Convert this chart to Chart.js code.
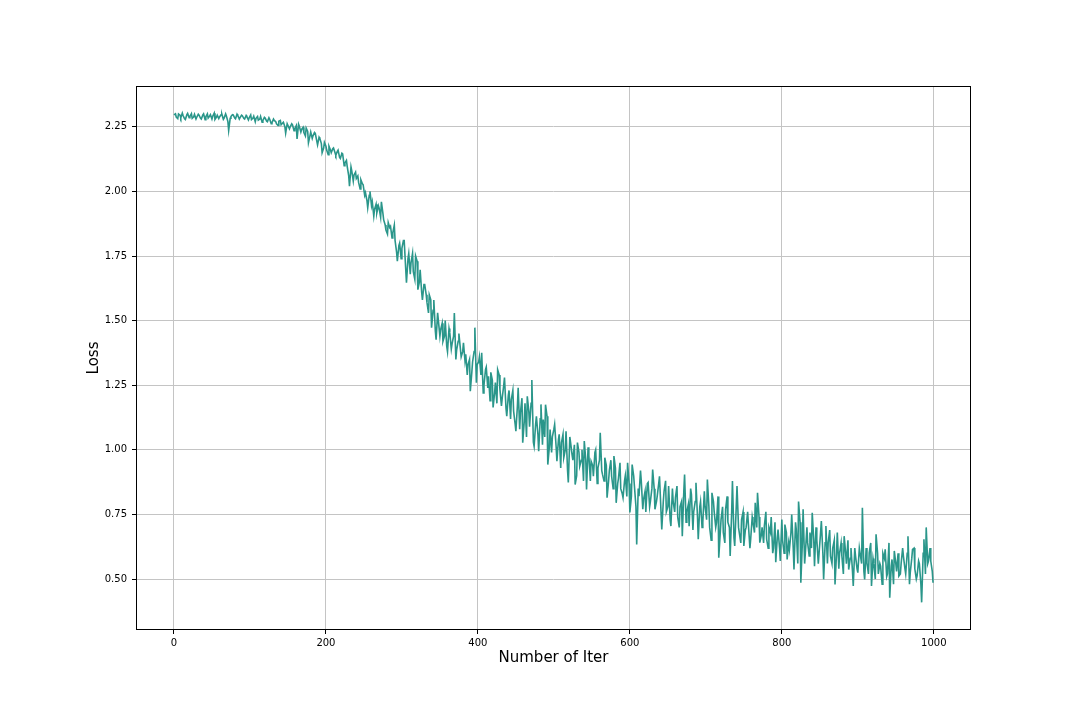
<!DOCTYPE html>
<html>
<head>
<meta charset="utf-8">
<title>Loss</title>
<script src="https://cdn.jsdelivr.net/npm/chart.js@4.4.1/dist/chart.umd.min.js"></script>
<style>
  html, body { margin: 0; padding: 0; background: #fff; }
  #wrap { width: 1080px; height: 720px; }
</style>
</head>
<body>
<div id="wrap"><canvas id="lossChart" width="1080" height="720"></canvas></div>
<script>
// loss: lossA at iterations 0,3,6,... and lossB at 2,5,8,...
const STEP = 3;
const lossA = [
  2.296, 2.288, 2.300, 2.285, 2.294, 2.278, 2.302, 2.290, 2.283, 2.298,
  2.287, 2.295, 2.280, 2.300, 2.289, 2.284, 2.297, 2.291, 2.279, 2.295,
  2.288, 2.299, 2.284, 2.292, 2.236, 2.290, 2.296, 2.281, 2.294, 2.286,
  2.293, 2.280, 2.289, 2.285, 2.278, 2.291, 2.283, 2.276, 2.290, 2.274,
  2.284, 2.270, 2.279, 2.266, 2.275, 2.262, 2.272, 2.258, 2.268, 2.226,
  2.262, 2.250, 2.258, 2.243, 2.203, 2.252, 2.240, 2.228, 2.245, 2.188,
  2.230, 2.215, 2.225, 2.180, 2.205, 2.150, 2.190, 2.160, 2.175, 2.150,
  2.168, 2.140, 2.160, 2.128, 2.145, 2.110, 2.097, 2.020, 2.080, 2.064,
  2.050, 2.035, 2.045, 2.026, 1.995, 1.937, 2.000, 1.960, 1.930, 1.917,
  1.935, 1.960, 1.890, 1.850, 1.880, 1.865, 1.840, 1.810, 1.730, 1.800,
  1.780, 1.810, 1.647, 1.760, 1.724, 1.690, 1.750, 1.620, 1.697, 1.580,
  1.640, 1.570, 1.600, 1.473, 1.580, 1.426, 1.500, 1.465, 1.420, 1.500,
  1.380, 1.453, 1.410, 1.530, 1.386, 1.450, 1.360, 1.414, 1.370, 1.330,
  1.227, 1.340, 1.473, 1.330, 1.360, 1.376, 1.250, 1.320, 1.285, 1.300,
  1.164, 1.260, 1.310, 1.234, 1.200, 1.280, 1.130, 1.230, 1.195, 1.150,
  1.072, 1.240, 1.144, 1.028, 1.180, 1.207, 1.090, 1.270, 1.014, 1.130,
  0.995, 1.176, 1.117, 1.175, 0.943, 1.079, 1.050, 1.098, 0.956, 1.060,
  1.028, 0.970, 1.072, 0.874, 1.028, 0.960, 0.866, 1.028, 0.937, 1.000,
  1.034, 0.847, 0.980, 0.956, 0.898, 1.000, 0.930, 1.066, 0.905, 0.970,
  0.815, 0.920, 0.898, 0.976, 0.795, 0.890, 0.850, 0.815, 0.900, 0.950,
  0.758, 0.943, 0.860, 0.634, 0.821, 0.880, 0.808, 0.760, 0.874, 0.800,
  0.924, 0.770, 0.821, 0.898, 0.692, 0.840, 0.760, 0.860, 0.705, 0.800,
  0.815, 0.740, 0.780, 0.666, 0.905, 0.760, 0.705, 0.828, 0.760, 0.873,
  0.654, 0.800, 0.720, 0.782, 0.885, 0.700, 0.834, 0.760, 0.718, 0.583,
  0.730, 0.680, 0.770, 0.720, 0.589, 0.879, 0.628, 0.860, 0.680, 0.730,
  0.628, 0.700, 0.711, 0.654, 0.720, 0.795, 0.834, 0.641, 0.700, 0.705,
  0.654, 0.700, 0.740, 0.620, 0.565, 0.692, 0.570, 0.650, 0.711, 0.576,
  0.615, 0.750, 0.537, 0.692, 0.800, 0.486, 0.770, 0.602, 0.640, 0.680,
  0.757, 0.550, 0.654, 0.600, 0.725, 0.499, 0.705, 0.640, 0.589, 0.620,
  0.479, 0.680, 0.600, 0.589, 0.666, 0.560, 0.537, 0.620, 0.473, 0.589,
  0.525, 0.600, 0.776, 0.499, 0.563, 0.602, 0.473, 0.560, 0.673, 0.520,
  0.550, 0.600, 0.615, 0.520, 0.428, 0.576, 0.609, 0.530, 0.512, 0.560,
  0.589, 0.520, 0.666, 0.525, 0.615, 0.540, 0.512, 0.560, 0.410, 0.654,
  0.700, 0.570, 0.570, 0.486
];
const lossB = [
  2.300, 2.282, 2.295, 2.303, 2.281, 2.297, 2.285, 2.301, 2.289, 2.280,
  2.299, 2.283, 2.296, 2.278, 2.300, 2.292, 2.280, 2.303, 2.288, 2.282,
  2.297, 2.279, 2.300, 2.270, 2.283, 2.297, 2.284, 2.299, 2.280, 2.295,
  2.282, 2.294, 2.277, 2.296, 2.284, 2.270, 2.290, 2.280, 2.268, 2.287,
  2.272, 2.285, 2.262, 2.280, 2.270, 2.255, 2.275, 2.265, 2.250, 2.262,
  2.242, 2.262, 2.235, 2.255, 2.260, 2.230, 2.248, 2.215, 2.232, 2.215,
  2.205, 2.228, 2.195, 2.210, 2.185, 2.168, 2.175, 2.142, 2.160, 2.165,
  2.150, 2.155, 2.132, 2.148, 2.100, 2.120, 2.060, 2.095, 2.040, 2.075,
  2.060, 2.010, 2.030, 1.985, 1.965, 1.985, 1.945, 1.905, 1.950, 1.945,
  1.900, 1.915, 1.870, 1.835, 1.860, 1.820, 1.870, 1.765, 1.790, 1.740,
  1.810, 1.700, 1.740, 1.680, 1.760, 1.660, 1.730, 1.650, 1.610, 1.640,
  1.600, 1.530, 1.580, 1.540, 1.460, 1.530, 1.440, 1.490, 1.440, 1.400,
  1.470, 1.390, 1.440, 1.350, 1.420, 1.390, 1.380, 1.345, 1.290, 1.350,
  1.300, 1.380, 1.260, 1.340, 1.290, 1.220, 1.310, 1.240, 1.190, 1.270,
  1.220, 1.180, 1.290, 1.170, 1.250, 1.160, 1.210, 1.120, 1.230, 1.100,
  1.170, 1.080, 1.200, 1.110, 1.050, 1.150, 1.180, 1.030, 1.100, 1.060,
  1.120, 1.020, 1.050, 1.130, 1.010, 0.990, 1.080, 1.010, 1.040, 0.930,
  1.060, 1.000, 0.920, 1.050, 0.980, 1.020, 0.900, 0.990, 0.960, 0.880,
  0.960, 1.010, 0.880, 0.940, 0.990, 0.870, 0.960, 0.920, 0.880, 0.940,
  0.880, 0.960, 0.850, 0.930, 0.870, 0.950, 0.830, 0.880, 0.820, 0.870,
  0.820, 0.900, 0.780, 0.850, 0.920, 0.770, 0.840, 0.870, 0.780, 0.850,
  0.850, 0.800, 0.870, 0.760, 0.800, 0.880, 0.780, 0.730, 0.850, 0.760,
  0.860, 0.700, 0.800, 0.840, 0.720, 0.790, 0.850, 0.690, 0.800, 0.740,
  0.780, 0.700, 0.840, 0.730, 0.780, 0.650, 0.800, 0.700, 0.820, 0.680,
  0.780, 0.640, 0.820, 0.700, 0.760, 0.660, 0.780, 0.700, 0.640, 0.760,
  0.690, 0.760, 0.620, 0.740, 0.680, 0.700, 0.740, 0.670, 0.640, 0.760,
  0.620, 0.680, 0.600, 0.720, 0.660, 0.620, 0.730, 0.600, 0.680, 0.640,
  0.680, 0.620, 0.720, 0.560, 0.720, 0.640, 0.560, 0.700, 0.590, 0.620,
  0.650, 0.700, 0.560, 0.680, 0.600, 0.640, 0.560, 0.690, 0.560, 0.650,
  0.600, 0.540, 0.640, 0.520, 0.600, 0.650, 0.580, 0.530, 0.620, 0.540,
  0.620, 0.560, 0.530, 0.620, 0.520, 0.640, 0.580, 0.500, 0.600, 0.560,
  0.480, 0.580, 0.510, 0.640, 0.550, 0.480, 0.560, 0.600, 0.520, 0.620,
  0.540, 0.600, 0.480, 0.580, 0.620, 0.500, 0.570, 0.480, 0.600, 0.520,
  0.560, 0.620, 0.530
];

// points in iteration order: 0, 2, 3, 5, 6, 8, ...
const points = [];
lossA.forEach((v, i) => {
  points.push({ x: i * STEP, y: v });
  if (i < lossB.length) points.push({ x: i * STEP + 2, y: lossB[i] });
});

const xTicks = [0, 200, 400, 600, 800, 1000];
const yTicks = [0.50, 0.75, 1.00, 1.25, 1.50, 1.75, 2.00, 2.25];

const lineColor = '#2a968a';
const gridColor = '#c4c4c4';

Chart.defaults.font.family = "'DejaVu Sans', sans-serif";
Chart.defaults.color = '#000';

// matplotlib style frame round the axes
const framePlugin = {
  id: 'frame',
  afterDraw(chart) {
    const { ctx, chartArea: a } = chart;
    ctx.save();
    ctx.strokeStyle = '#000';
    ctx.lineWidth = 1;
    ctx.strokeRect(a.left + 0.5, a.top + 0.5, a.right - a.left - 1, a.bottom - a.top - 1);
    ctx.restore();
  }
};

const ctx = document.getElementById('lossChart').getContext('2d');
const lossChart = new Chart(ctx, {
  type: 'line',
  data: {
    datasets: [{
      label: 'Loss',
      data: points,
      borderColor: lineColor,
      borderWidth: 1.6,
      pointRadius: 0,
      tension: 0,
      fill: false
    }]
  },
  options: {
    responsive: false,
    animation: false,
    devicePixelRatio: 1,
    layout: { padding: { left: 0, top: 86, right: 109, bottom: 0 } },
    plugins: {
      legend: { display: false },
      tooltip: { enabled: false }
    },
    scales: {
      x: {
        type: 'linear',
        min: -49.95,
        max: 1048.95,
        afterBuildTicks: (scale) => { scale.ticks = xTicks.map(v => ({ value: v })); },
        afterFit: (scale) => { scale.height = 90; },
        ticks: {
          font: { size: 10 },
          padding: 3,
          maxRotation: 0,
          callback: (v) => String(v)
        },
        grid: { color: gridColor, lineWidth: 1, tickLength: 4, tickColor: '#000' },
        border: { display: false },
        title: {
          display: true,
          text: 'Number of Iter',
          font: { size: 15 },
          padding: { top: 0, bottom: 53 }
        }
      },
      y: {
        min: 0.303,
        max: 2.408,
        afterBuildTicks: (scale) => { scale.ticks = yTicks.map(v => ({ value: v })); },
        afterFit: (scale) => { scale.width = 136; },
        ticks: {
          font: { size: 10 },
          padding: 5,
          callback: (v) => Number(v).toFixed(2)
        },
        grid: { color: gridColor, lineWidth: 1, tickLength: 4, tickColor: '#000' },
        border: { display: false },
        title: {
          display: true,
          text: 'Loss',
          font: { size: 15 },
          padding: { top: 85, bottom: 0 }
        }
      }
    }
  },
  plugins: [framePlugin]
});
</script>
</body>
</html>
